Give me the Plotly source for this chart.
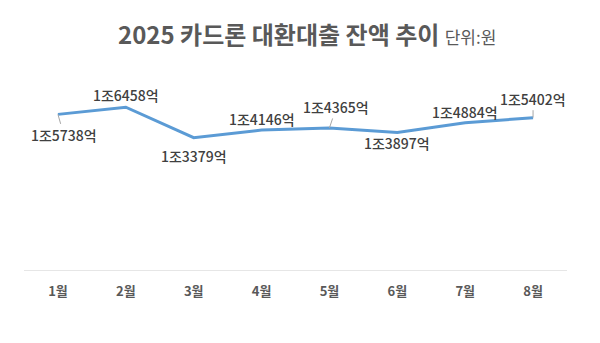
import plotly.graph_objects as go

months = ["1월", "2월", "3월", "4월", "5월", "6월", "7월", "8월"]
values = [15738, 16458, 13379, 14146, 14365, 13897, 14884, 15402]  # 억원
labels = ["1조5738억", "1조6458억", "1조3379억", "1조4146억", "1조4365억", "1조3897억", "1조4884억", "1조5402억"]

# label offsets (pixels) and whether a leader line is drawn
offsets = [(6, 21, True), (0, -12, False), (0, 18, False), (0, -11, False),
           (7, -21, True), (0, 10, False), (0, -11, False), (0, -19, True)]

FONT = "Noto Sans CJK KR"

fig = go.Figure()
fig.add_trace(go.Scatter(
    x=months, y=values, mode="lines",
    line=dict(color="#5B9BD5", width=3),
    hoverinfo="skip",
))

lab_font = dict(family=FONT, size=14, color="#404040", weight=500)
for m, v, lab, (dx, dy, leader) in zip(months, values, labels, offsets):
    if leader:
        fig.add_annotation(x=m, y=v, xref="x", yref="y", text=lab,
                           showarrow=True, arrowhead=0, arrowwidth=1,
                           arrowcolor="#A6A6A6", ax=dx, ay=dy, standoff=0,
                           font=lab_font)
    else:
        fig.add_annotation(x=m, y=v, xref="x", yref="y", text=lab,
                           showarrow=False, xshift=dx, yshift=-dy,
                           font=lab_font)

fig.update_layout(
    width=600, height=343,
    margin=dict(l=24, r=33, t=92, b=73),
    paper_bgcolor="white", plot_bgcolor="white",
    showlegend=False,
    title=dict(
        text="<b>2025 카드론 대환대출 잔액 추이</b> <span style='font-size:17px'>단위:원</span>",
        x=0.512, xanchor="center", y=0.895, yanchor="middle",
        font=dict(family=FONT, size=24, color="#595959"),
    ),
    xaxis=dict(
        range=[-0.5, 7.5],
        showgrid=False, showline=False, zeroline=False, ticks="",
        tickfont=dict(family=FONT, size=13, color="#595959"),
        tickvals=months, ticktext=[f"<b>{m}</b>" for m in months],
        ticklabelstandoff=12,
    ),
    yaxis=dict(
        range=[0, 18000], showticklabels=False, showgrid=False,
        zeroline=True, zerolinecolor="#E6E6E6", zerolinewidth=1,
        showline=False, ticks="",
    ),
)

fig.write_html("out.html")
